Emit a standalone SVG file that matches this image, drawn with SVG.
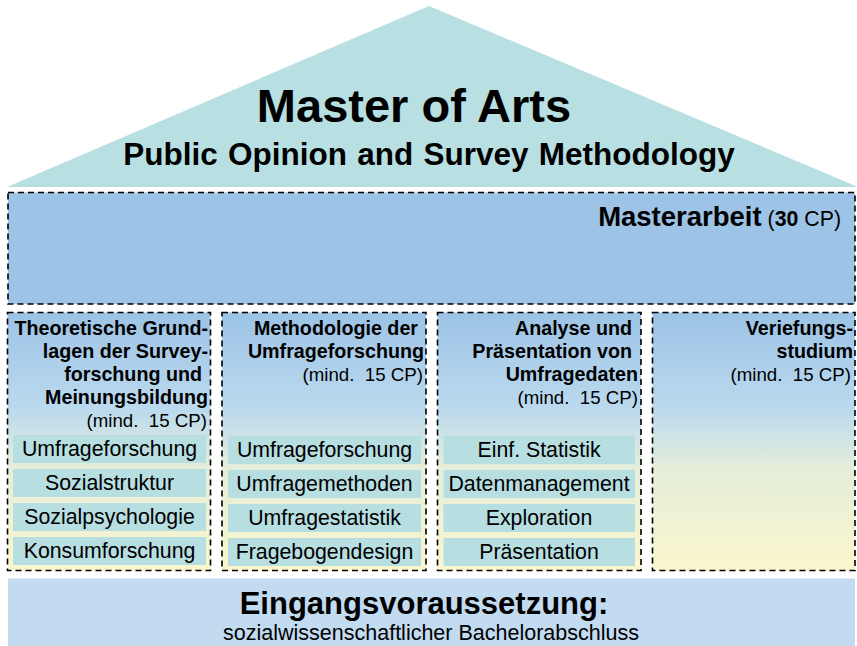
<svg xmlns="http://www.w3.org/2000/svg" width="857" height="646" viewBox="0 0 857 646">
<defs>
<linearGradient id="colGrad" x1="0" y1="0" x2="0" y2="1">
<stop offset="0" stop-color="#9CC3E6"/>
<stop offset="0.38" stop-color="#BCDAEE"/>
<stop offset="0.6" stop-color="#E4EEDA"/>
<stop offset="1" stop-color="#FBF6CC"/>
</linearGradient>
<style>
text { font-family: "Liberation Sans", Arial, sans-serif; fill: #000; }
.dash { stroke: #000; stroke-width: 1.6; stroke-dasharray: 6 4; }
.col { fill: url(#colGrad); }
.item { fill: #B7DEE1; }
.head { font-size: 19.7px; font-weight: bold; text-anchor: end; }
.cp { font-size: 18.7px; text-anchor: end; white-space: pre; }
.itxt { font-size: 21.3px; text-anchor: middle; }
</style>
</defs>
<rect width="857" height="646" fill="#FFFFFF"/>

<g id="roof">
<polygon points="429,6 858,187 7,187" fill="#B8DFE2"/>
<text x="414" y="122" font-size="47" font-weight="bold" text-anchor="middle">Master of Arts</text>
<text x="429" y="165" font-size="31.5" font-weight="bold" text-anchor="middle" word-spacing="1.5">Public Opinion and Survey Methodology</text>
</g>

<g id="masterarbeit">
<rect x="8" y="192.5" width="847" height="111.5" fill="#9DC3E6" class="dash"/>
<text x="841" y="226" text-anchor="end"><tspan font-size="27.5" font-weight="bold">Masterarbeit</tspan><tspan font-size="21.3"> (</tspan><tspan font-size="21.3" font-weight="bold">30</tspan><tspan font-size="21.3"> CP)</tspan></text>
</g>

<g id="col-theorie">
<rect x="7.5" y="312.5" width="203" height="258" class="col dash"/>
<text class="head" x="208" y="335">Theoretische Grund-</text>
<text class="head" x="208" y="358">lagen der Survey-</text>
<text class="head" x="202" y="381">forschung und</text>
<text class="head" x="208" y="404">Meinungsbildung</text>
<text class="cp" x="207" y="427">(mind.  15 CP)</text>
<rect class="item" x="13" y="435" width="193" height="28"/>
<text class="itxt" x="109.5" y="456">Umfrageforschung</text>
<rect class="item" x="13" y="469" width="193" height="28"/>
<text class="itxt" x="109.5" y="490">Sozialstruktur</text>
<rect class="item" x="13" y="503" width="193" height="28"/>
<text class="itxt" x="109.5" y="524">Sozialpsychologie</text>
<rect class="item" x="13" y="537" width="193" height="28"/>
<text class="itxt" x="109.5" y="558">Konsumforschung</text>
</g>

<g id="col-methodologie">
<rect x="222" y="312.5" width="204" height="258" class="col dash"/>
<text class="head" x="418" y="335">Methodologie der</text>
<text class="head" x="424" y="358">Umfrageforschung</text>
<text class="cp" x="423" y="381">(mind.  15 CP)</text>
<rect class="item" x="228" y="436" width="193" height="28"/>
<text class="itxt" x="324.5" y="457">Umfrageforschung</text>
<rect class="item" x="228" y="470" width="193" height="28"/>
<text class="itxt" x="324.5" y="491">Umfragemethoden</text>
<rect class="item" x="228" y="504" width="193" height="28"/>
<text class="itxt" x="324.5" y="525">Umfragestatistik</text>
<rect class="item" x="228" y="538" width="193" height="28"/>
<text class="itxt" x="324.5" y="559">Fragebogendesign</text>
</g>

<g id="col-analyse">
<rect x="437.5" y="312.5" width="203.5" height="258" class="col dash"/>
<text class="head" x="632" y="335">Analyse und</text>
<text class="head" x="632" y="358">Präsentation von</text>
<text class="head" x="638" y="381">Umfragedaten</text>
<text class="cp" x="638" y="404">(mind.  15 CP)</text>
<rect class="item" x="443.5" y="436" width="191.5" height="28"/>
<text class="itxt" x="539" y="457">Einf. Statistik</text>
<rect class="item" x="443.5" y="470" width="191.5" height="28"/>
<text class="itxt" x="539" y="491">Datenmanagement</text>
<rect class="item" x="443.5" y="504" width="191.5" height="28"/>
<text class="itxt" x="539" y="525">Exploration</text>
<rect class="item" x="443.5" y="538" width="191.5" height="28"/>
<text class="itxt" x="539" y="559">Präsentation</text>
</g>

<g id="col-vertiefung">
<rect x="652.5" y="312.5" width="202.5" height="258" class="col dash"/>
<text class="head" x="853" y="335">Veriefungs-</text>
<text class="head" x="853" y="358">studium</text>
<text class="cp" x="851" y="381">(mind.  15 CP)</text>
</g>

<g id="eingang">
<rect x="8" y="578.5" width="847" height="67.5" fill="#C3DBF0"/>
<text x="424" y="614" font-size="31" font-weight="bold" text-anchor="middle">Eingangsvoraussetzung:</text>
<text x="431" y="640" font-size="21.5" text-anchor="middle">sozialwissenschaftlicher Bachelorabschluss</text>
</g>

<g id="connectors"></g>
</svg>
